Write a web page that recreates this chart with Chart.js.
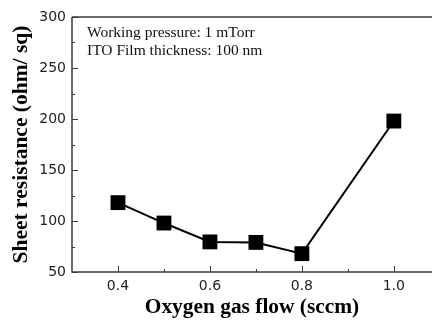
<!DOCTYPE html>
<html>
<head>
<meta charset="utf-8">
<script src="https://cdn.jsdelivr.net/npm/chart.js@4.4.1/dist/chart.umd.min.js"></script>
<style>
	html, body { margin: 0; padding: 0; background: #fff; overflow: hidden; }
	#wrap { width: 432px; height: 322px; }
</style>
</head>
<body>
<div id="wrap"><canvas id="sheetChart" width="432" height="322"></canvas></div>
<script>
var oxygenFlow = [0.4, 0.5, 0.6, 0.7, 0.8, 1.0];
var sheetResistance = [118, 98, 79.5, 79, 68, 198];
var xTickValues = [0.4, 0.6, 0.8, 1.0];
var xMinorValues = [0.5, 0.7, 0.9];
var yTickValues = [50, 100, 150, 200, 250, 300];
var yMinorValues = [75, 125, 175, 225, 275];
var noteLines = ['Working pressure: 1 mTorr', 'ITO Film thickness: 100 nm'];

var points = [];
for (var i = 0; i < oxygenFlow.length; i++) {
	points.push({x: oxygenFlow[i], y: sheetResistance[i]});
}

//Dibuja el marco del area y las marcas hacia dentro
var framePlugin = {
	id: 'frame',
	afterDraw: function(chart) {
		var ctx = chart.ctx;
		var a = chart.chartArea;
		var xs = chart.scales.x;
		var ys = chart.scales.y;
		ctx.save();
		ctx.strokeStyle = '#3a3a3a';
		ctx.lineWidth = 1.5;
		ctx.beginPath();
		ctx.moveTo(a.left, a.top);
		ctx.lineTo(a.right, a.top);
		ctx.moveTo(a.left, a.top);
		ctx.lineTo(a.left, a.bottom);
		ctx.lineTo(a.right, a.bottom);
		ctx.stroke();

		ctx.lineWidth = 1;
		ctx.beginPath();
		xTickValues.forEach(function(v) {
			var px = Math.round(xs.getPixelForValue(v)) + 0.5;
			ctx.moveTo(px, a.bottom);
			ctx.lineTo(px, a.bottom - 6);
		});
		xMinorValues.forEach(function(v) {
			var px = Math.round(xs.getPixelForValue(v)) + 0.5;
			ctx.moveTo(px, a.bottom);
			ctx.lineTo(px, a.bottom - 3);
		});
		yTickValues.forEach(function(v) {
			var py = Math.round(ys.getPixelForValue(v)) + 0.5;
			ctx.moveTo(a.left, py);
			ctx.lineTo(a.left + 6, py);
		});
		yMinorValues.forEach(function(v) {
			var py = Math.round(ys.getPixelForValue(v)) + 0.5;
			ctx.moveTo(a.left, py);
			ctx.lineTo(a.left + 3, py);
		});
		ctx.stroke();

		ctx.fillStyle = '#111';
		ctx.font = '15.5px "Liberation Serif"';
		ctx.textBaseline = 'alphabetic';
		ctx.fillText(noteLines[0], 87, 37);
		ctx.fillText(noteLines[1], 87, 55);
		ctx.restore();
	}
};

var ctx = document.getElementById('sheetChart').getContext('2d');
var chart = new Chart(ctx, {
	type: 'line',
	data: {
		datasets: [{
			data: points,
			borderColor: '#000',
			backgroundColor: '#000',
			borderWidth: 2,
			pointStyle: 'rect',
			pointRadius: 10.5,
			pointBorderWidth: 0,
			tension: 0
		}]
	},
	options: {
		responsive: false,
		animation: false,
		layout: { autoPadding: false, padding: { top: 17, right: 0, left: 0, bottom: 0 } },
		plugins: {
			legend: { display: false },
			tooltip: { enabled: false }
		},
		scales: {
			x: {
				type: 'linear',
				min: 0.3,
				max: 1.083,
				grid: { display: false, drawTicks: false },
				border: { display: false },
				afterBuildTicks: function(scale) {
					scale.ticks = xTickValues.map(function(v) { return {value: v}; });
				},
				afterFit: function(scale) {
					scale.height = 50;
					scale.paddingLeft = 0;
					scale.paddingRight = 0;
				},
				ticks: {
					padding: 6,
					color: '#222',
					font: { family: 'DejaVu Sans', size: 14 },
					callback: function(v) { return v.toFixed(1); }
				},
				title: {
					display: true,
					text: 'Oxygen gas flow (sccm)',
					color: '#000',
					font: { family: 'Liberation Serif', size: 21.4, weight: 'bold' },
					padding: { top: 0, bottom: 2 }
				}
			},
			y: {
				type: 'linear',
				min: 50,
				max: 300,
				grid: { display: false, drawTicks: false },
				border: { display: false },
				afterBuildTicks: function(scale) {
					scale.ticks = yTickValues.map(function(v) { return {value: v}; });
				},
				afterFit: function(scale) {
					scale.width = 72;
					scale.paddingTop = 0;
					scale.paddingBottom = 0;
				},
				ticks: {
					padding: 6,
					color: '#222',
					font: { family: 'DejaVu Sans', size: 14 }
				},
				title: {
					display: true,
					text: 'Sheet resistance (ohm/ sq)',
					color: '#000',
					font: { family: 'Liberation Serif', size: 21.5, weight: 'bold' },
					padding: { top: 9, bottom: 0 }
				}
			}
		}
	},
	plugins: [framePlugin]
});
</script>
</body>
</html>
